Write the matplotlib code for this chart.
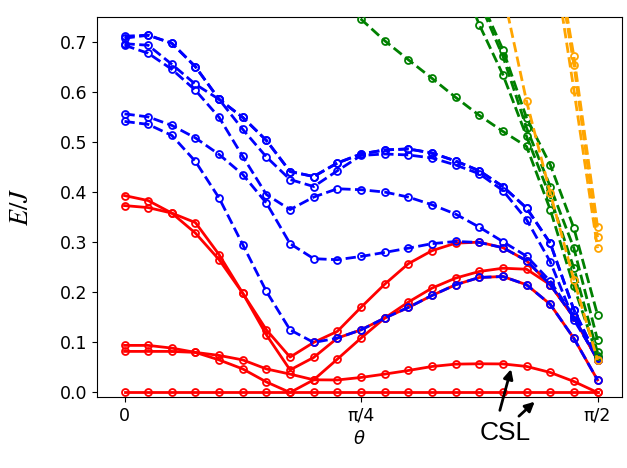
import numpy as np
import matplotlib
matplotlib.use("Agg")
import matplotlib.pyplot as plt

nan = np.nan
theta = np.linspace(0, np.pi / 2, 21)

# red (solid) levels
red_0 = [0.0] * 21
red_a = [0.393, 0.383, 0.358, 0.339, 0.275, 0.198, 0.125, 0.0706, 0.100, 0.122, 0.170,
         0.216, 0.257, 0.283, 0.298, 0.300, 0.289, 0.263, 0.215, 0.150, 0.065]
red_b = [0.373, 0.369, 0.358, 0.318, 0.265, 0.198, 0.115, 0.045, 0.070, 0.1086, 0.125,
         0.1485, 0.1697, 0.1936, 0.215, 0.2295, 0.2315, 0.215, 0.176, 0.108, 0.025]
red_c = [0.094, 0.094, 0.0886, 0.080, 0.074, 0.065, 0.047, 0.0367, 0.0253, 0.025, 0.030,
         0.0367, 0.0439, 0.0519, 0.0566, 0.0573, 0.057, 0.052, 0.040, 0.022, 0.0]
red_d = [0.082, 0.082, 0.082, 0.080, 0.065, 0.047, 0.021, 0.0, 0.0253, 0.0666, 0.1086,
         0.1485, 0.1804, 0.2083, 0.2283, 0.2415, 0.248, 0.246, 0.215, 0.150, 0.065]

# blue (dashed) levels
blue_a = [0.711, 0.713, 0.697, 0.650, 0.585, 0.549, 0.503, 0.441, 0.431, 0.458, 0.476,
          0.484, 0.486, 0.478, 0.462, 0.4425, 0.411, 0.368, 0.298, 0.165, 0.068]
blue_b = [0.707, 0.713, 0.697, 0.650, 0.585, 0.549, 0.503, 0.441, 0.431, 0.458, 0.476,
          0.484, 0.486, 0.478, 0.462, 0.4425, 0.411, 0.368, 0.298, 0.165, 0.068]
blue_c = [0.696, 0.693, 0.655, 0.615, 0.585, 0.525, 0.470, 0.425, 0.411, 0.4425, 0.473,
          0.476, 0.474, 0.468, 0.454, 0.4365, 0.403, 0.345, 0.261, 0.145, 0.068]
blue_f = [0.693, 0.677, 0.645, 0.603, 0.549, 0.471, 0.395, 0.365, 0.390, 0.4066, 0.4046,
          0.400, 0.390, 0.3747, 0.356, 0.330, 0.301, 0.272, 0.222, 0.152, 0.068]
blue_d = [0.556, 0.550, 0.533, 0.508, 0.475, 0.435, 0.378, 0.297, 0.267, 0.265, 0.2715,
          0.2795, 0.288, 0.297, 0.3014, 0.2994, 0.289, 0.263, 0.215, 0.150, 0.065]
blue_e = [0.541, 0.535, 0.513, 0.461, 0.388, 0.295, 0.2016, 0.125, 0.0998, 0.1086, 0.125,
          0.1485, 0.1697, 0.1936, 0.215, 0.2295, 0.2315, 0.215, 0.176, 0.108, 0.025]

# green (dashed) levels
green_1 = [nan] * 9 + [0.782, 0.745, 0.702, 0.664, 0.627, 0.589, 0.553, 0.521, 0.491, 0.365, 0.2116, 0.072]
green_2 = [nan] * 14 + [0.93, 0.79, 0.684, 0.548, 0.4545, 0.328, 0.155]
green_3 = [nan] * 14 + [0.92, 0.78, 0.671, 0.528, 0.411, 0.288, 0.105]
green_4 = [nan] * 13 + [0.96, 0.85, 0.734, 0.634, 0.511, 0.39, 0.248, 0.08]

# orange (dashed) levels
orange_1 = [nan] * 16 + [0.80, 0.581, 0.398, 0.225, 0.065]
orange_2 = [nan] * 18 + [0.95, 0.671, 0.331]
orange_3 = [nan] * 18 + [0.94, 0.654, 0.31]
orange_4 = [nan] * 18 + [0.91, 0.604, 0.288]

groups = [
    ("red", "-", [red_0, red_a, red_b, red_c, red_d], 2),
    ("blue", "--", [blue_a, blue_b, blue_c, blue_f, blue_d, blue_e], 3),
    ("green", "--", [green_1, green_2, green_3, green_4], 4),
    ("orange", "--", [orange_1, orange_2, orange_3, orange_4], 5),
]

fig = plt.figure(figsize=(6.27, 4.68), dpi=100)
ax = fig.add_axes([0.1544, 0.1517, 0.8376, 0.8127])

for color, ls, series, z in groups:
    for s in series:
        ax.plot(theta, s, ls=ls, color=color, lw=2, marker="o", ms=5,
                mfc="none", mew=1.3, zorder=z)

ax.set_xlim(-0.092, 1.652)
ax.set_ylim(-0.009, 0.75)
ax.set_xticks([0, np.pi / 4, np.pi / 2])
ax.set_xticklabels(["0", "π/4", "π/2"])
ax.set_yticks([0.0, 0.1, 0.2, 0.3, 0.4, 0.5, 0.6, 0.7])
ax.tick_params(labelsize=12.5)
ax.set_xlabel(r"$\theta$", fontsize=13)
ax.set_ylabel(r"$E/J$", fontsize=19, math_fontfamily="stix", labelpad=18)

ax.annotate("", xy=(1.286, 0.052), xytext=(1.244, -0.041), xycoords="data",
            arrowprops=dict(arrowstyle="-|>", color="black", lw=2, mutation_scale=14),
            annotation_clip=False)
ax.annotate("", xy=(1.369, -0.0146), xytext=(1.303, -0.051), xycoords="data",
            arrowprops=dict(arrowstyle="-|>", color="black", lw=2, mutation_scale=14),
            annotation_clip=False)
ax.text(1.264, -0.081, "CSL", fontsize=19, ha="center", va="center",
        family="Liberation Sans", clip_on=False)

fig.savefig("out.png", dpi=100)
